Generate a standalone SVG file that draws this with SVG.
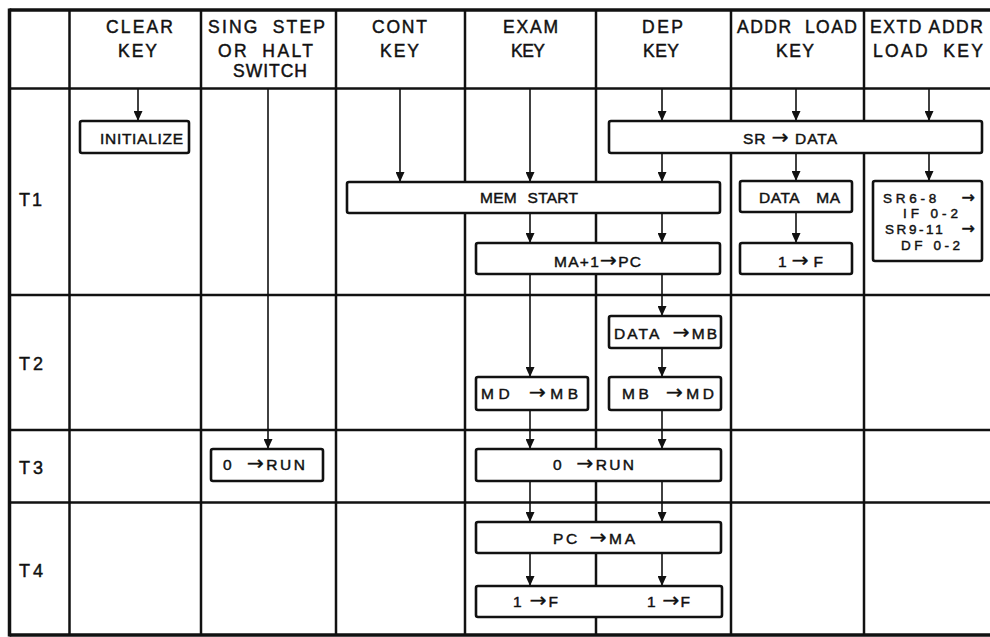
<svg xmlns="http://www.w3.org/2000/svg" width="990" height="637" viewBox="0 0 990 637">
<defs>
<style>
.grid{stroke:#111;stroke-width:2.5;fill:none}
.border{stroke:#111;stroke-width:3.5;fill:none}
.conn line{stroke:#111;stroke-width:1.6}
.box{fill:#fff;stroke:#111;stroke-width:2.6}
text{font-family:"Liberation Sans",Arial,sans-serif;fill:#111;stroke:#111;stroke-width:0.45}
.hd{font-size:17.5px}
.rl{font-size:18px}
.bt{font-size:15.5px}
.st{font-size:13.5px}
.ar{font-family:"DejaVu Sans",sans-serif;font-size:20px}
.as{font-family:"DejaVu Sans",sans-serif;font-size:16px}
.ws{word-spacing:6px}
</style>
<marker id="ah" markerUnits="userSpaceOnUse" markerWidth="10" markerHeight="9" refX="10" refY="4.5" orient="auto">
<path d="M0,0 L10,4.5 L0,9 Z" fill="#111"/>
</marker>
</defs>
<rect width="990" height="637" fill="#fff"/>

<g id="grid">
<line class="border" x1="9.5" y1="10" x2="990" y2="10"/>
<line class="border" x1="9.5" y1="635" x2="990" y2="635"/>
<line class="border" x1="9.5" y1="8.5" x2="9.5" y2="636.5"/>
<line class="grid" x1="9.5" y1="88.5" x2="990" y2="88.5"/>
<line class="grid" x1="9.5" y1="295" x2="990" y2="295"/>
<line class="grid" x1="9.5" y1="430" x2="990" y2="430"/>
<line class="grid" x1="9.5" y1="502.5" x2="990" y2="502.5"/>
<line class="grid" x1="69.5" y1="10" x2="69.5" y2="635"/>
<line class="grid" x1="201" y1="10" x2="201" y2="635"/>
<line class="grid" x1="336" y1="10" x2="336" y2="635"/>
<line class="grid" x1="465" y1="10" x2="465" y2="635"/>
<line class="grid" x1="596" y1="10" x2="596" y2="635"/>
<line class="grid" x1="731" y1="10" x2="731" y2="635"/>
<line class="grid" x1="864" y1="10" x2="864" y2="635"/>
</g>

<g id="headers" class="hd">
<text x="106" y="33" textLength="67" lengthAdjust="spacing">CLEAR</text>
<text x="118" y="57" textLength="39" lengthAdjust="spacing">KEY</text>
<text class="ws" x="208" y="33" textLength="117" lengthAdjust="spacing">SING STEP</text>
<text class="ws" x="218" y="57" textLength="95" lengthAdjust="spacing">OR HALT</text>
<text x="233" y="77" textLength="74" lengthAdjust="spacing">SWITCH</text>
<text x="372" y="33" textLength="55" lengthAdjust="spacing">CONT</text>
<text x="380" y="57" textLength="39" lengthAdjust="spacing">KEY</text>
<text x="503" y="33" textLength="55" lengthAdjust="spacing">EXAM</text>
<text x="511" y="57" textLength="34" lengthAdjust="spacing">KEY</text>
<text x="642" y="33" textLength="41" lengthAdjust="spacing">DEP</text>
<text x="643" y="57" textLength="36" lengthAdjust="spacing">KEY</text>
<text class="ws" x="737" y="33" textLength="120" lengthAdjust="spacing">ADDR LOAD</text>
<text x="776" y="57" textLength="38" lengthAdjust="spacing">KEY</text>
<text x="870" y="33" textLength="113" lengthAdjust="spacing">EXTD ADDR</text>
<text class="ws" x="873" y="57" textLength="110" lengthAdjust="spacing">LOAD KEY</text>
</g>

<g id="row-labels" class="rl">
<text x="19" y="206" textLength="23" lengthAdjust="spacing">T1</text>
<text x="19" y="370" textLength="24" lengthAdjust="spacing">T2</text>
<text x="19" y="474" textLength="24" lengthAdjust="spacing">T3</text>
<text x="19" y="577" textLength="24" lengthAdjust="spacing">T4</text>
</g>

<g id="connectors" class="conn">
<line x1="138" y1="89" x2="138" y2="121" marker-end="url(#ah)"/>
<line x1="268" y1="89" x2="268" y2="449" marker-end="url(#ah)"/>
<line x1="400" y1="89" x2="400" y2="182" marker-end="url(#ah)"/>
<line x1="530" y1="89" x2="530" y2="182" marker-end="url(#ah)"/>
<line x1="530" y1="213" x2="530" y2="243" marker-end="url(#ah)"/>
<line x1="530" y1="274" x2="530" y2="377" marker-end="url(#ah)"/>
<line x1="530" y1="410" x2="530" y2="449" marker-end="url(#ah)"/>
<line x1="530" y1="481" x2="530" y2="522" marker-end="url(#ah)"/>
<line x1="530" y1="553" x2="530" y2="586" marker-end="url(#ah)"/>
<line x1="662" y1="89" x2="662" y2="121" marker-end="url(#ah)"/>
<line x1="662" y1="153" x2="662" y2="182" marker-end="url(#ah)"/>
<line x1="662" y1="213" x2="662" y2="243" marker-end="url(#ah)"/>
<line x1="662" y1="274" x2="662" y2="316" marker-end="url(#ah)"/>
<line x1="662" y1="348" x2="662" y2="377" marker-end="url(#ah)"/>
<line x1="662" y1="410" x2="662" y2="449" marker-end="url(#ah)"/>
<line x1="662" y1="481" x2="662" y2="522" marker-end="url(#ah)"/>
<line x1="662" y1="553" x2="662" y2="586" marker-end="url(#ah)"/>
<line x1="796" y1="89" x2="796" y2="121" marker-end="url(#ah)"/>
<line x1="796" y1="153" x2="796" y2="181" marker-end="url(#ah)"/>
<line x1="796" y1="212" x2="796" y2="243" marker-end="url(#ah)"/>
<line x1="929" y1="89" x2="929" y2="121" marker-end="url(#ah)"/>
<line x1="929" y1="153" x2="929" y2="181" marker-end="url(#ah)"/>
</g>

<g id="initialize">
<rect class="box" x="80" y="121" width="109" height="32" rx="2"/>
<text class="bt" x="100" y="144" textLength="83" lengthAdjust="spacing">INITIALIZE</text>
</g>
<g id="sr-data">
<rect class="box" x="609" y="121" width="373" height="32" rx="2"/>
<text class="bt" x="743" y="144" textLength="94" lengthAdjust="spacing">SR <tspan class="ar">→</tspan> DATA</text>
</g>
<g id="mem-start">
<rect class="box" x="347" y="182" width="373" height="31" rx="2"/>
<text class="bt ws" x="480" y="203" textLength="98" lengthAdjust="spacing">MEM START</text>
</g>
<g id="data-ma">
<rect class="box" x="740" y="181" width="112" height="31" rx="2"/>
<text class="bt" x="759" y="203" textLength="81" lengthAdjust="spacing" word-spacing="12">DATA MA</text>
</g>
<g id="extd-load">
<rect class="box" x="873" y="181" width="109" height="80" rx="2"/>
<text class="st" x="883" y="203" textLength="92" lengthAdjust="spacing" word-spacing="14">SR6-8 <tspan class="as">→</tspan></text>
<text class="st" x="903" y="218" textLength="55" lengthAdjust="spacing">IF 0-2</text>
<text class="st" x="885" y="234" textLength="90" lengthAdjust="spacing" word-spacing="10">SR9-11 <tspan class="as">→</tspan></text>
<text class="st" x="901" y="250" textLength="59" lengthAdjust="spacing">DF 0-2</text>
</g>
<g id="ma1-pc">
<rect class="box" x="476" y="243" width="244" height="31" rx="2"/>
<text class="bt" x="554" y="267" textLength="87" lengthAdjust="spacing">MA+1<tspan class="ar">→</tspan>PC</text>
</g>
<g id="addr-1f">
<rect class="box" x="740" y="243" width="112" height="31" rx="2"/>
<text class="bt" x="778" y="267" textLength="45" lengthAdjust="spacing">1<tspan class="ar">→</tspan>F</text>
</g>
<g id="data-mb">
<rect class="box" x="609" y="316" width="112" height="32" rx="2"/>
<text class="bt" x="614" y="339" textLength="103" lengthAdjust="spacing" word-spacing="6">DATA <tspan class="ar">→</tspan>MB</text>
</g>
<g id="md-mb">
<rect class="box" x="476" y="377" width="112" height="33" rx="2"/>
<text class="bt" x="481" y="399" textLength="97" lengthAdjust="spacing" word-spacing="6">MD <tspan class="ar">→</tspan>MB</text>
</g>
<g id="mb-md">
<rect class="box" x="609" y="377" width="112" height="33" rx="2"/>
<text class="bt" x="622" y="399" textLength="92" lengthAdjust="spacing" word-spacing="6">MB <tspan class="ar">→</tspan>MD</text>
</g>
<g id="run-halt">
<rect class="box" x="211" y="449" width="112" height="32" rx="2"/>
<text class="bt" x="223" y="470" textLength="82" lengthAdjust="spacing" word-spacing="6">0 <tspan class="ar">→</tspan>RUN</text>
</g>
<g id="run-main">
<rect class="box" x="476" y="449" width="245" height="32" rx="2"/>
<text class="bt" x="553" y="470" textLength="81" lengthAdjust="spacing" word-spacing="6">0 <tspan class="ar">→</tspan>RUN</text>
</g>
<g id="pc-ma">
<rect class="box" x="476" y="522" width="245" height="31" rx="2"/>
<text class="bt" x="553" y="544" textLength="82" lengthAdjust="spacing" word-spacing="3">PC <tspan class="ar">→</tspan>MA</text>
</g>
<g id="one-f">
<rect class="box" x="476" y="586" width="246" height="31" rx="2"/>
<text class="bt" x="513" y="607" textLength="45" lengthAdjust="spacing">1 <tspan class="ar">→</tspan>F</text>
<text class="bt" x="647" y="607" textLength="43" lengthAdjust="spacing">1 <tspan class="ar">→</tspan>F</text>
</g>
</svg>
